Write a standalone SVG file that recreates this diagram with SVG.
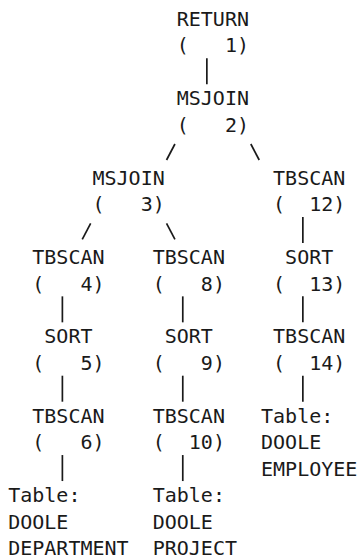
<svg xmlns="http://www.w3.org/2000/svg" width="357" height="560" viewBox="0 0 357 560" xml:space="preserve">
<style>
text{font-family:"DejaVu Sans Mono","Liberation Mono",monospace;font-size:20px;fill:#1a1a1a;white-space:pre}
.c line{stroke:#1a1a1a;stroke-width:1.7;stroke-linecap:butt}
</style>
<rect width="357" height="560" fill="#ffffff"/>
<g id="n1"><text x="176.76" y="26">RETURN</text><text x="176.76" y="52.45">(   1)</text></g>
<g id="n2"><text x="176.76" y="105.35">MSJOIN</text><text x="176.76" y="131.8">(   2)</text></g>
<g id="n3"><text x="92.48" y="184.7">MSJOIN</text><text x="92.48" y="211.15">(   3)</text></g>
<g id="n12"><text x="273.08" y="184.7">TBSCAN</text><text x="273.08" y="211.15">(  12)</text></g>
<g id="n4"><text x="32.28" y="264.05">TBSCAN</text><text x="32.28" y="290.5">(   4)</text></g>
<g id="n8"><text x="152.68" y="264.05">TBSCAN</text><text x="152.68" y="290.5">(   8)</text></g>
<g id="n13"><text x="285.12" y="264.05">SORT</text><text x="273.08" y="290.5">(  13)</text></g>
<g id="n5"><text x="44.32" y="343.4">SORT</text><text x="32.28" y="369.85">(   5)</text></g>
<g id="n9"><text x="164.72" y="343.4">SORT</text><text x="152.68" y="369.85">(   9)</text></g>
<g id="n14"><text x="273.08" y="343.4">TBSCAN</text><text x="273.08" y="369.85">(  14)</text></g>
<g id="n6"><text x="32.28" y="422.75">TBSCAN</text><text x="32.28" y="449.2">(   6)</text></g>
<g id="n10"><text x="152.68" y="422.75">TBSCAN</text><text x="152.68" y="449.2">(  10)</text></g>
<g id="t-employee"><text x="261.04" y="422.75">Table:</text><text x="261.04" y="449.2">DOOLE</text><text x="261.04" y="475.65">EMPLOYEE</text></g>
<g id="t-department"><text x="8.2" y="502.1">Table:</text><text x="8.2" y="528.55">DOOLE</text><text x="8.2" y="555">DEPARTMENT</text></g>
<g id="t-project"><text x="152.68" y="502.1">Table:</text><text x="152.68" y="528.55">DOOLE</text><text x="152.68" y="555">PROJECT</text></g>
<g id="connectors" class="c">
<line x1="206.86" y1="58.3" x2="206.86" y2="84.3"/>
<line x1="166.54" y1="160" x2="174.94" y2="144"/>
<line x1="250.82" y1="144" x2="259.22" y2="160"/>
<line x1="82.26" y1="239.35" x2="90.66" y2="223.35"/>
<line x1="166.54" y1="223.35" x2="174.94" y2="239.35"/>
<line x1="302.86" y1="217" x2="302.86" y2="243"/>
<line x1="62.38" y1="296.35" x2="62.38" y2="322.35"/>
<line x1="182.78" y1="296.35" x2="182.78" y2="322.35"/>
<line x1="302.86" y1="296.35" x2="302.86" y2="322.35"/>
<line x1="62.38" y1="375.7" x2="62.38" y2="401.7"/>
<line x1="182.78" y1="375.7" x2="182.78" y2="401.7"/>
<line x1="302.86" y1="375.7" x2="302.86" y2="401.7"/>
<line x1="62.38" y1="455.05" x2="62.38" y2="481.05"/>
<line x1="182.78" y1="455.05" x2="182.78" y2="481.05"/>
</g>
</svg>
